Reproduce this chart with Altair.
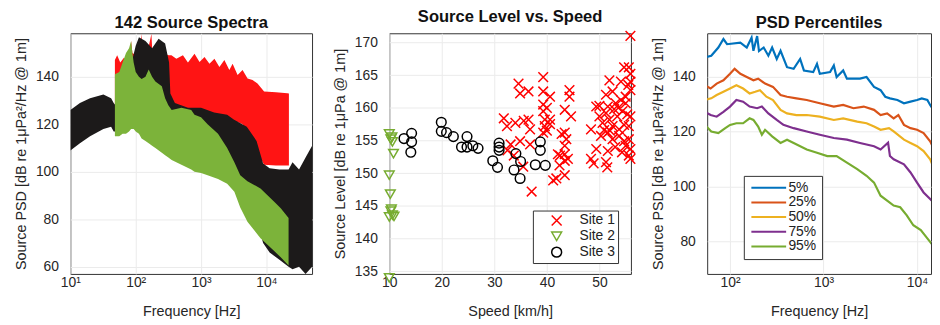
import altair as alt
import pandas as pd

FONT = "Liberation Sans"

# ---------------- Panel 1: 142 Source Spectra (envelopes of the spectra per site) ----------------
black_f = [10, 14, 20, 32, 42, 46, 56, 79, 85, 100, 112, 141, 178, 224, 282, 324, 339, 398, 631, 1000,
           1585, 2512, 3162, 5012, 7079, 8913, 11220, 15849, 21878, 25119, 31623, 39811, 50119]
black_lo = [109, 112, 115, 118, 119, 117, 117, 118, 118, 118, 117, 116, 115, 114, 113, 112, 112, 111, 109, 106,
            103, 99, 95, 90, 80, 70, 66, 63, 60, 59, 60, 57, 60]
black_hi = [126, 129, 131, 132.5, 131, 129, 126, 130, 145, 153, 156.6, 155, 152, 156, 154, 146, 133, 129, 127, 127,
            125, 124, 122, 119, 113, 103.5, 101.5, 101, 101, 104, 101, 106, 111]

red_f = [48, 52, 58, 66, 75, 82, 85, 89, 100, 115, 123, 128, 150, 174, 180, 250, 320, 352, 419, 528, 630, 794,
         948, 1130, 1346, 1603, 1910, 2275, 2710, 3043, 3625, 4322, 5152, 6138, 7311, 9226, 14000, 20900, 22130]
red_hi = [147, 149, 146, 148, 147, 150, 155, 150, 149, 150, 158, 150, 150, 158, 150, 150, 149, 149, 147.6, 149,
          146, 149.7, 146.2, 148.3, 145.5, 147.6, 144.1, 147, 142.8, 145.5, 140.7, 142.8, 139.3, 138.6, 137.2,
          133.8, 133.5, 133.1, 133]
red_lo = [117, 116, 117, 117, 118, 119, 119, 119, 119, 119, 120, 120, 120, 120, 120, 121, 121, 121, 121, 121,
          121, 121, 121, 121, 121, 121, 121, 121, 121, 121, 121, 120, 117, 112, 108, 103, 102.6, 102.6, 102.6]

green_f = [48, 56, 63, 71, 79, 85, 89, 93, 100, 112, 123, 141, 158, 178, 200, 251, 282, 316, 355, 501, 708,
           794, 1000, 1259, 1820, 2512, 3236, 3981, 5129, 8128, 13183, 16596, 21878]
green_lo = [115, 115, 116, 116, 117, 118, 118, 118, 117, 116, 114, 113, 112, 111, 110, 108, 107, 106, 105, 103,
            101, 100, 99.5, 98.5, 97, 95, 91.6, 85, 79, 72, 66.6, 64, 60.5]
green_hi = [141, 142, 146, 150, 152, 155, 150, 146, 142, 140, 139, 140, 143, 140, 138, 136, 131, 128, 126, 127,
            126, 124, 123, 120, 116, 110, 104, 98.5, 96, 93, 87.4, 84.6, 80.5]

# ---------------- Panel 2: Source Level vs. Speed ----------------
sites = ["Site 1", "Site 2", "Site 3"]
site1_speed = [31.8, 32.4, 33.1, 33.7, 34.0, 34.6, 34.9, 34.9, 35.6, 36.5, 36.5, 36.8, 36.8, 37.1, 32.5, 35.5,
               39.3, 39.3, 39.3, 39.3, 40.6, 39.6, 40.6, 39.6, 39.3, 40.0, 40.6, 40.0,
               44.3, 44.3, 43.4, 44.6, 42.8, 43.4, 43.7, 43.4, 42.1, 43.4, 42.4, 43.4, 41.8, 43.4, 41.2, 42.5, 44.0,
               55.9, 51.9, 52.5, 54.1, 54.7, 55.6, 55.9, 55.9, 55.9, 49.4, 51.25, 51.6, 53.1, 54.1, 55.0, 55.0,
               48.4, 50.0, 50.6, 51.25, 51.9, 52.5, 53.4, 53.75, 54.7, 55.6, 55.9,
               50.3, 51.6, 52.5, 53.75, 54.7, 55.6, 49.4, 51.6, 55.0, 55.9, 55.6, 48.4, 51.25, 55.9,
               50.0, 52.8, 53.6, 54.4, 52.0, 50.9, 48.9, 51.5, 53.0, 54.3, 55.3, 55.5]
site1_level = [158.4, 157.2, 154.4, 152.7, 157.7, 163.7, 162.2, 154.9, 158.0, 162.5, 158.2, 156.7, 154.4, 147.2,
               153.5, 151.0,
               164.7, 162.5, 160.5, 159.5, 161.7, 158.2, 158.2, 157.2, 156.2, 156.5, 157.5, 160.0,
               162.7, 161.7, 159.7, 158.7, 156.0, 156.2, 155.2, 154.2, 152.9, 152.9, 151.2, 151.9, 149.2, 149.7,
               148.9, 152.7, 152.2,
               171.0, 164.2, 162.5, 164.0, 166.2, 166.2, 165.2, 164.0, 162.7, 160.2, 162.0, 160.2, 160.7, 161.2,
               160.7, 161.7,
               156.7, 158.7, 157.7, 159.2, 158.2, 157.2, 158.7, 156.7, 157.4, 157.2, 158.7,
               155.7, 156.2, 155.2, 155.7, 154.9, 155.2, 153.7, 153.4, 154.2, 153.7, 152.7, 152.2, 151.7, 152.2,
               160.3, 159.8, 160.0, 159.5, 156.5, 156.6, 151.5, 150.9, 154.0, 153.2, 159.0, 163.5]
site2_speed = [10.0, 10.5, 10.3, 10.6, 10.8, 10.0, 10.2, 10.4, 10.3, 10.6, 10.0, 10.9, 10.0]
site2_level = [156.0, 155.5, 155.2, 154.8, 153.0, 149.7, 146.8, 144.5, 144.2, 143.6, 143.3, 143.4, 134.0]
site3_speed = [12.8, 14.25, 14.25, 14.1, 19.9, 19.9, 20.9, 22.2, 23.75, 24.8, 24.8, 25.9, 26.9, 29.7,
               30.9, 30.9, 30.9, 30.6, 34.1, 33.75, 35.0, 34.9, 37.8, 38.75, 38.75, 39.7]
site3_level = [155.3, 156.1, 154.8, 153.2, 157.8, 156.4, 156.2, 155.6, 154.0, 155.6, 154.0, 154.2, 153.8, 151.9,
               154.6, 154.0, 153.5, 150.9, 153.0, 150.5, 151.8, 149.2, 151.3, 154.8, 153.5, 151.2]

# ---------------- Panel 3: PSD Percentiles ----------------
pcts = ["5%", "25%", "50%", "75%", "95%"]
pct_colors = ["#0072BD", "#D95319", "#EDB120", "#7E2F8E", "#77AC30"]
p5_f = [54, 63, 75, 85, 93, 129, 151, 170, 178, 195, 204, 229, 257, 282, 316, 347, 407, 479, 562, 617, 776,
        851, 912, 1175, 1288, 1380, 1622, 1778, 2455, 2884, 3467, 4074, 4571, 5129, 6166, 7244, 8511, 10000,
        11220, 12882, 13804, 15849, 17783]
p5_v = [147.2, 147.8, 150.8, 153.9, 152, 152.6, 150.8, 154.4, 149.6, 155, 149.5, 150.8, 147.8, 150.8, 146.6,
        149.6, 143.6, 143, 146.6, 142.4, 141.8, 144.8, 141.2, 141.8, 144.2, 140, 142.4, 139.4, 139.4, 140, 136.4,
        135.2, 132.8, 132.2, 131.6, 130.4, 131, 131.6, 132.2, 131.6, 129.8, 126.7, 123.1]
p25_f = [54, 62, 72, 85, 100, 112, 129, 151, 178, 200, 237, 288, 347, 407, 513, 661, 912, 1288, 1622, 2089,
         2692, 3467, 4074, 4786, 5623, 6310, 7244, 8511, 10000, 11749, 13804, 16218, 17783]
p25_v = [137, 135.8, 137.6, 138.8, 141.2, 143, 141.2, 140, 138.8, 139.4, 137.6, 136.4, 133.4, 132.8, 132.2,
         131.6, 130.4, 129.2, 129.8, 128.6, 129.2, 128, 126.1, 126.7, 124.9, 126.1, 122.5, 121.3, 120.7, 119.5,
         116.5, 111.7, 107.5]
p50_f = [54, 63, 72, 85, 100, 117, 138, 162, 186, 209, 245, 288, 347, 407, 513, 661, 912, 1288, 1622, 2291,
         2884, 3467, 4074, 5012, 5623, 7244, 8511, 10000, 11749, 13804, 15849, 17783]
p50_v = [131.6, 132.2, 133.4, 134.6, 135.8, 137, 135.8, 134, 134.6, 135.2, 132.8, 131.6, 128, 126.7, 126.1,
         126.1, 125.5, 124.3, 124.9, 123.7, 123.1, 121.9, 120.7, 121.3, 120.1, 117.1, 115.9, 114.7, 112.9, 109.9,
         105.1, 100.2]
p75_f = [54, 62, 72, 85, 100, 117, 138, 162, 195, 219, 257, 316, 372, 479, 661, 912, 1288, 1778, 2455, 3467,
         4074, 4898, 5129, 5623, 7244, 8511, 10000, 11749, 13804, 16218, 17783]
p75_v = [127.3, 126.1, 125.5, 127.3, 129.2, 131.6, 131, 129.2, 128.6, 129.2, 126.7, 124.3, 122.5, 121.3, 120.1,
         118.9, 117.7, 117.1, 115.9, 114.7, 113.5, 116, 111.1, 109.9, 108.1, 105.1, 101.4, 97.8, 95.4, 93, 89.4]
p95_f = [54, 63, 75, 89, 100, 117, 138, 162, 178, 200, 219, 237, 282, 347, 407, 479, 661, 851, 1096, 1380,
         1778, 2291, 2884, 3467, 4074, 4786, 5623, 6607, 7762, 9120, 10965, 12882, 15136, 17783]
p95_v = [122.5, 120.1, 119.5, 121.3, 122.5, 123.1, 123.1, 124.9, 124.3, 121.9, 118.9, 120.7, 118.3, 115.9,
         117.1, 115.9, 113.5, 112.3, 111.1, 111.1, 108.7, 106.3, 103.9, 101.4, 96.6, 94.8, 93, 92.4, 89.4, 85.8,
         84, 81, 78, 73.7]

# ---------------- build tables ----------------
def band(f, lo, hi):
    return pd.DataFrame({"f": f, "lo": lo, "hi": hi})

df_black = band(black_f, black_lo, black_hi)
df_red = band(red_f, red_lo, red_hi)
df_green = band(green_f, green_lo, green_hi)

df2 = pd.concat([
    pd.DataFrame({"speed": site1_speed, "level": site1_level, "site": "Site 1"}),
    pd.DataFrame({"speed": site2_speed, "level": site2_level, "site": "Site 2"}),
    pd.DataFrame({"speed": site3_speed, "level": site3_level, "site": "Site 3"}),
], ignore_index=True)
df2["order"] = range(len(df2))

series3 = [(p5_f, p5_v), (p25_f, p25_v), (p50_f, p50_v), (p75_f, p75_v), (p95_f, p95_v)]
df3 = pd.concat([pd.DataFrame({"f": f, "v": v, "pct": p}) for p, (f, v) in zip(pcts, series3)],
                ignore_index=True)

label_expr = "'10' + ['⁰','¹','²','³','⁴','⁵'][round(log(datum.value)/LN10)]"
psd_title = "Source PSD [dB re 1μPa²/Hz @ 1m]"

W, H = 244, 243

# ---------------- panel 1 ----------------
x1 = alt.X("f:Q", scale=alt.Scale(type="log", domain=[10, 50000], nice=False),
           axis=alt.Axis(values=[10, 100, 1000, 10000], labelExpr=label_expr), title="Frequency [Hz]")
y1 = alt.Y("lo:Q", scale=alt.Scale(domain=[57, 158.3], nice=False, zero=False),
           axis=alt.Axis(values=[60, 80, 100, 120, 140]), title=psd_title)

def area(df, color):
    return alt.Chart(df).mark_area(color=color, clip=True, opacity=1).encode(x=x1, y=y1, y2="hi:Q")

p1 = alt.layer(area(df_red, "#ff1414"), area(df_black, "#1c1a1a"), area(df_green, "#7cb33a")).properties(
    width=W, height=H, title="142 Source Spectra")

# ---------------- panel 2 ----------------
xpath = "M-1,-1L1,1M-1,1L1,-1"
leg2 = alt.Legend(title=None, orient="none", legendX=145, legendY=179, strokeColor="#333",
                  fillColor="white", padding=3, labelFontSize=14, labelFont=FONT, symbolSize=100,
                  symbolStrokeWidth=1.5, rowPadding=0, labelColor="#222", symbolOffset=14, labelOffset=16)
p2 = alt.Chart(df2).mark_point(filled=False, strokeWidth=1.5, size=95, opacity=1).encode(
    x=alt.X("speed:Q", scale=alt.Scale(domain=[10, 56], nice=False),
            axis=alt.Axis(values=[10, 20, 30, 40, 50]), title="Speed [km/h]"),
    y=alt.Y("level:Q", scale=alt.Scale(domain=[134.6, 171.4], nice=False, zero=False),
            axis=alt.Axis(values=[135, 140, 145, 150, 155, 160, 165, 170]),
            title="Source Level [dB re 1μPa @ 1m]"),
    color=alt.Color("site:N", scale=alt.Scale(domain=sites, range=["#ff0000", "#77ac30", "#000000"]),
                    legend=leg2),
    shape=alt.Shape("site:N", scale=alt.Scale(domain=sites, range=[xpath, "triangle-down", "circle"]),
                    legend=leg2),
    order=alt.Order("order:Q"),
).properties(width=W, height=H, title="Source Level vs. Speed")

# ---------------- panel 3 ----------------
leg3 = alt.Legend(title=None, orient="none", legendX=37, legendY=144, strokeColor="#333",
                  fillColor="white", padding=5, labelFontSize=14, labelFont=FONT,
                  symbolType="M-1,0L7,0", symbolSize=77, symbolStrokeWidth=2, rowPadding=0.8,
                  labelOffset=26, labelColor="#222")
p3 = alt.Chart(df3).mark_line(strokeWidth=2.2, clip=True).encode(
    x=alt.X("f:Q", scale=alt.Scale(type="log", domain=[57, 14100], nice=False),
            axis=alt.Axis(values=[100, 1000, 10000], labelExpr=label_expr), title="Frequency [Hz]"),
    y=alt.Y("v:Q", scale=alt.Scale(domain=[68, 156], nice=False, zero=False),
            axis=alt.Axis(values=[80, 100, 120, 140]), title=psd_title),
    color=alt.Color("pct:N", scale=alt.Scale(domain=pcts, range=pct_colors), legend=leg3),
).properties(width=226, height=H, title="PSD Percentiles")

left_pair = alt.hconcat(p1, p2, spacing=19).resolve_scale(
    color="independent", shape="independent"
).resolve_legend(color="independent", shape="independent")

chart = alt.hconcat(left_pair, p3, spacing=11).resolve_scale(
    color="independent", shape="independent"
).resolve_legend(color="independent", shape="independent").properties(
    padding={"left": 5, "top": -1, "right": 0, "bottom": 0}
).configure_view(stroke="#333", strokeWidth=1).configure_axis(
    labelFont=FONT, labelFontSize=14, labelColor="#262626", labelFlush=False,
    titleFont=FONT, titleFontSize=14.5, titleFontWeight="normal", titleColor="#262626",
    domain=False, ticks=False, tickSize=0, gridColor="#ebebeb", gridWidth=1,
).configure_axisY(labelPadding=12, minExtent=38, maxExtent=38, titlePadding=4).configure_axisX(
    labelPadding=2, titlePadding=15
).configure_title(font=FONT, fontSize=16.7, fontWeight="bold", color="#111", offset=2, anchor="middle")

chart.save("out.html", embed_options={"renderer": "svg", "actions": False})
